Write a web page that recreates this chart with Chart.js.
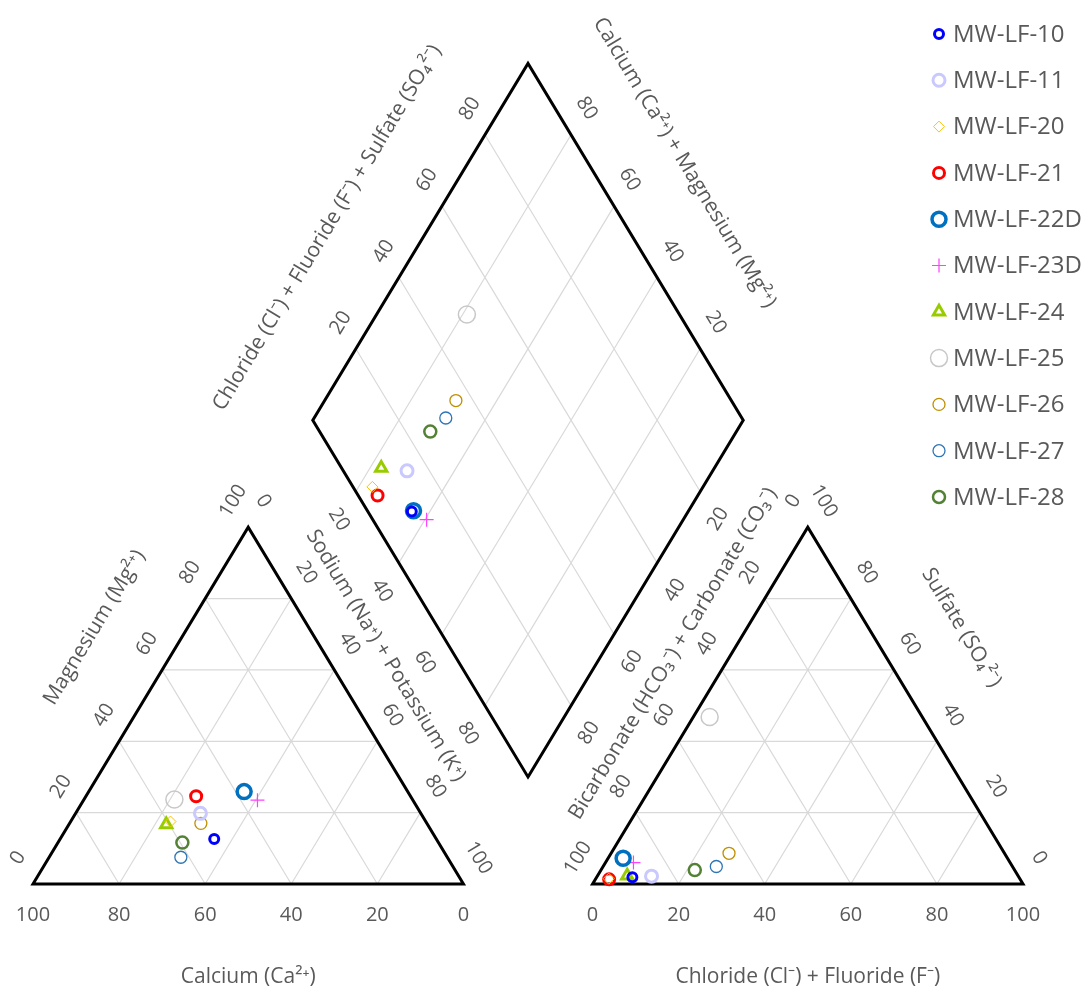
<!DOCTYPE html>
<html>
<head>
<meta charset="utf-8">
<title>Piper diagram</title>
<script src="https://cdn.jsdelivr.net/npm/chart.js@4.4.1/dist/chart.umd.min.js"></script>
<style>
  html, body { margin: 0; padding: 0; background: #fff; }
  #wrap { width: 1088px; height: 996px; }
</style>
</head>
<body>
<div id="wrap"><canvas id="piperChart" width="1088" height="996"></canvas></div>
<script>
// percent of meq
var wells = ['MW-LF-10', 'MW-LF-11', 'MW-LF-20', 'MW-LF-21', 'MW-LF-22D', 'MW-LF-23D',
             'MW-LF-24', 'MW-LF-25', 'MW-LF-26', 'MW-LF-27', 'MW-LF-28'];
var calcium         = [51.6, 51.2, 59.3, 49.8, 38.0, 36.1, 60.7, 55.3, 52.5, 61.9, 59.5];
var magnesium       = [12.6, 19.8, 17.5, 24.6, 25.9, 23.5, 16.7, 23.7, 17.0, 7.5, 11.6];
var sodiumPotassium = [35.8, 29.0, 23.2, 25.6, 36.1, 40.4, 22.6, 21.0, 30.5, 30.6, 28.9];
var chlorideFluoride = [8.3, 12.6, 3.0, 3.2, 3.5, 6.5, 6.9, 3.8, 27.4, 26.3, 21.8];
var sulfate          = [1.9, 2.2, 1.5, 1.3, 7.2, 6.0, 2.3, 46.8, 8.6, 4.9, 3.9];
var bicarbonate      = [89.8, 85.2, 95.5, 95.5, 89.3, 87.5, 90.8, 49.4, 64.0, 68.8, 74.3];

var tickValues = [0, 20, 40, 60, 80, 100];
var innerTicks = [20, 40, 60, 80];

// marker looks, same order as wells
var colors = ['#0000FF', '#C9C9FF', '#FFC000', '#FF0000', '#0070C0', '#FF40FF',
              '#99CC00', '#C8C8C8', '#BF9000', '#2E75B6', '#548235'];
var pointStyles = ['circle', 'circle', 'rectRot', 'circle', 'circle', 'cross',
                   'triangle', 'circle', 'circle', 'circle', 'circle'];
var pointSizes = [4.5, 6, 5.5, 5.5, 7, 7, 6.5, 8.5, 6, 6, 6];
var lineWidths = [3, 3, 1, 3, 3.5, 1.2, 3, 1.5, 1.3, 1.3, 2.5];

var TEXT_COLOR = '#595959';
var TICK_FONT = '20px "Open Sans"';
var TITLE_FONT = '21px "Open Sans"';
var LEGEND_FONT = '24px "Open Sans"';

// geometry: triangle side = 100, gap between the two triangles
var GAP = 30;
var H = 86.6025; // height of the triangle
var ANION_X = 100 + GAP;

function cationXY(na, mg) { return {x: na + mg / 2, y: mg * H / 100}; }
function anionXY(cl, so4) { return {x: ANION_X + cl + so4 / 2, y: so4 * H / 100}; }
// caMg = Ca + Mg (100 - Na - K), clSo4 = Cl + F + SO4 (100 - HCO3 - CO3)
function diamondXY(caMg, clSo4) {
    return {x: 100 + GAP / 2 + (clSo4 - caMg) / 2, y: (GAP + caMg + clSo4) * H / 100};
}
function gap() { return {x: null, y: null}; }

function triangleGrid(toXY) {
    var pts = [];
    innerTicks.forEach(function (k) {
        pts.push(toXY(0, k), toXY(100 - k, k), gap());
        pts.push(toXY(k, 0), toXY(k, 100 - k), gap());
        pts.push(toXY(100 - k, 0), toXY(0, 100 - k), gap());
    });
    return pts;
}

var gridPts = triangleGrid(cationXY).concat(triangleGrid(anionXY));
innerTicks.forEach(function (k) {
    gridPts.push(diamondXY(k, 0), diamondXY(k, 100), gap());
    gridPts.push(diamondXY(0, k), diamondXY(100, k), gap());
});

// repeat the first two corners so the closing corner gets a mitred join
var outlinePts = [
    cationXY(0, 0), cationXY(100, 0), cationXY(0, 100), cationXY(0, 0), cationXY(100, 0), gap(),
    anionXY(0, 0), anionXY(100, 0), anionXY(0, 100), anionXY(0, 0), anionXY(100, 0), gap(),
    diamondXY(0, 0), diamondXY(0, 100), diamondXY(100, 100), diamondXY(100, 0), diamondXY(0, 0), diamondXY(0, 100)
];

// tick labels along each edge: where the value sits, pixel nudge, text slant
var edgeAxes = [
    {at: function (v) { return cationXY(0, v); }, ticks: tickValues, dx: -15, dy: -26, tilt: 'up'},
    {at: function (v) { return cationXY(v, 100 - v); }, ticks: tickValues, dx: 15, dy: -26, tilt: 'down'},
    {at: function (v) { return cationXY(100 - v, 0); }, ticks: tickValues, dx: 0, dy: 31, tilt: 'flat'},
    {at: function (v) { return anionXY(0, 100 - v); }, ticks: tickValues, dx: -14.5, dy: -26, tilt: 'up'},
    {at: function (v) { return anionXY(100 - v, v); }, ticks: tickValues, dx: 16, dy: -26, tilt: 'down'},
    {at: function (v) { return anionXY(v, 0); }, ticks: tickValues, dx: 0, dy: 31, tilt: 'flat'},
    {at: function (v) { return diamondXY(100, v); }, ticks: innerTicks, dx: -15, dy: -26, tilt: 'up'},
    {at: function (v) { return diamondXY(v, 100); }, ticks: innerTicks, dx: 15.5, dy: -26.4, tilt: 'down'},
    {at: function (v) { return diamondXY(100 - v, 0); }, ticks: innerTicks, dx: -17, dy: 28, tilt: 'down'},
    {at: function (v) { return diamondXY(0, 100 - v); }, ticks: innerTicks, dx: 18, dy: 27.5, tilt: 'up'}
];

var axisTitles = [
    {text: 'Magnesium (Mg\u00B2\u207A)', from: cationXY(0, 0), to: cationXY(0, 100), dx: -46, dy: -78, tilt: 'up'},
    {text: 'Sodium (Na\u207A) + Potassium (K\u207A)', from: cationXY(100, 0), to: cationXY(0, 100), dx: 30, dy: -50, tilt: 'down'},
    {text: 'Calcium (Ca\u00B2\u207A)', from: cationXY(0, 0), to: cationXY(100, 0), dx: 0, dy: 93, tilt: 'flat'},
    {text: 'Chloride (Cl\u207B) + Fluoride (F\u207B)', from: anionXY(0, 0), to: anionXY(100, 0), dx: 0, dy: 93, tilt: 'flat'},
    {text: 'Bicarbonate (HCO\u2083\u207B) + Carbonate (CO\u2083\u207B)', from: anionXY(0, 0), to: anionXY(0, 100), dx: -27, dy: -52, tilt: 'up'},
    {text: 'Sulfate (SO\u2084\u00B2\u207B)', from: anionXY(100, 0), to: anionXY(0, 100), dx: 46, dy: -78, tilt: 'down'},
    {text: 'Chloride (Cl\u207B) + Fluoride (F\u207B) + Sulfate (SO\u2084\u00B2\u207B)', from: diamondXY(100, 0), to: diamondXY(100, 100), dx: -93, dy: -14, tilt: 'up'},
    {text: 'Calcium (Ca\u00B2\u207A) + Magnesium (Mg\u00B2\u207A)', from: diamondXY(100, 100), to: diamondXY(0, 100), dx: 49, dy: -79, tilt: 'down'}
];

var wellSets = wells.map(function (name, i) {
    return {
        label: name,
        data: [
            cationXY(sodiumPotassium[i], magnesium[i]),
            anionXY(chlorideFluoride[i], sulfate[i]),
            diamondXY(calcium[i] + magnesium[i], chlorideFluoride[i] + sulfate[i])
        ],
        showLine: false,
        pointStyle: pointStyles[i],
        pointRadius: pointSizes[i],
        pointBorderWidth: lineWidths[i],
        borderWidth: lineWidths[i],
        borderColor: colors[i],
        pointBorderColor: colors[i],
        backgroundColor: 'rgba(0,0,0,0)',
        pointBackgroundColor: 'rgba(0,0,0,0)',
        clip: false,
        order: 0
    };
});

var piperText = {
    id: 'piperText',
    afterDraw: function (chart) {
        var ctx = chart.ctx, xs = chart.scales.x, ys = chart.scales.y;
        function px(p) { return {x: xs.getPixelForValue(p.x), y: ys.getPixelForValue(p.y)}; }
        var a0 = px(cationXY(0, 0)), a1 = px(cationXY(0, 100));
        var slant = Math.atan2(a1.y - a0.y, a1.x - a0.x); // about -59 deg
        function rot(tilt) { return tilt === 'up' ? slant : (tilt === 'down' ? -slant : 0); }

        ctx.save();
        ctx.fillStyle = TEXT_COLOR;
        ctx.textAlign = 'center';
        ctx.textBaseline = 'middle';
        ctx.font = TICK_FONT;
        edgeAxes.forEach(function (axis) {
            axis.ticks.forEach(function (v) {
                var p = px(axis.at(v));
                ctx.save();
                ctx.translate(p.x + axis.dx, p.y + axis.dy);
                ctx.rotate(rot(axis.tilt));
                ctx.fillText(String(v), 0, 0);
                ctx.restore();
            });
        });

        ctx.font = TITLE_FONT;
        axisTitles.forEach(function (t) {
            var p = px(t.from), q = px(t.to);
            ctx.save();
            ctx.translate((p.x + q.x) / 2 + t.dx, (p.y + q.y) / 2 + t.dy);
            ctx.rotate(rot(t.tilt));
            ctx.fillText(t.text, 0, 0);
            ctx.restore();
        });

        // legend, top right
        ctx.font = LEGEND_FONT;
        ctx.textAlign = 'left';
        wells.forEach(function (name, i) {
            var y = 34 + i * 46.3;
            ctx.strokeStyle = colors[i];
            ctx.fillStyle = 'rgba(0,0,0,0)';
            ctx.lineWidth = lineWidths[i];
            Chart.helpers.drawPoint(ctx, {pointStyle: pointStyles[i], radius: pointSizes[i], borderWidth: lineWidths[i], rotation: 0}, 939, y);
            ctx.fillStyle = TEXT_COLOR;
            ctx.fillText(name, 953, y + 1);
        });
        ctx.restore();
    }
};

var ctx = document.getElementById('piperChart').getContext('2d');
var piperChart = new Chart(ctx, {
    type: 'scatter',
    data: {
        datasets: wellSets.concat([
            {
                label: 'outline',
                data: outlinePts,
                showLine: true,
                spanGaps: false,
                borderColor: '#000000',
                borderWidth: 3,
                borderJoinStyle: 'miter',
                pointRadius: 0,
                clip: false,
                order: 2
            },
            {
                label: 'grid',
                data: gridPts,
                showLine: true,
                spanGaps: false,
                borderColor: '#D9D9D9',
                borderWidth: 1.2,
                pointRadius: 0,
                clip: false,
                order: 3
            }
        ])
    },
    options: {
        responsive: false,
        animation: false,
        events: [],
        layout: {padding: {left: 33, right: 65, top: 60, bottom: 112}},
        scales: {
            x: {type: 'linear', min: 0, max: 230, display: false},
            y: {type: 'linear', min: 0, max: 200, display: false}
        },
        plugins: {
            legend: {display: false},
            tooltip: {enabled: false}
        }
    },
    plugins: [piperText]
});
</script>
</body>
</html>
